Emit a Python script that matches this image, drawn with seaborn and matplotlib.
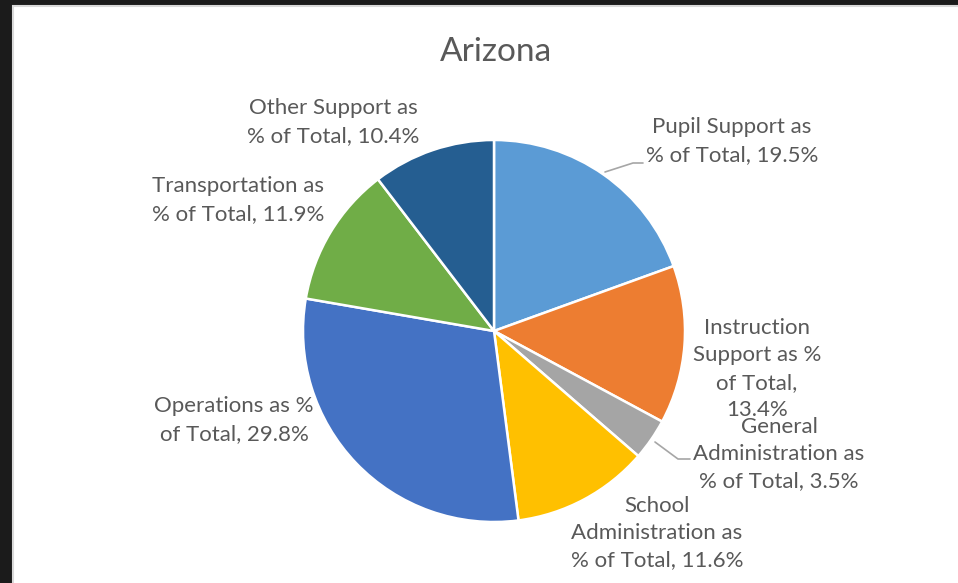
import matplotlib.pyplot as plt
import seaborn as sns
from matplotlib.patches import Rectangle

# data (clockwise from 12 o'clock)
categories = [
    "Pupil Support as\n% of Total",
    "Instruction\nSupport as %\nof Total,",
    "General\nAdministration as\n% of Total",
    "School\nAdministration as\n% of Total",
    "Operations as %\nof Total",
    "Transportation as\n% of Total",
    "Other Support as\n% of Total",
]
shares = [19.5, 13.4, 3.5, 11.6, 29.8, 11.9, 10.4]
colors = ["#5B9BD5", "#ED7D31", "#A5A5A5", "#FFC000", "#4472C4", "#70AD47", "#255E91"]

# label centres in pixels of the reference
label_px = [(732, 141), (757, 369), (779, 454), (657, 533), (234, 420), (238, 200), (333, 122)]

W, H = 958, 583
CX, CY, R = 494, 331, 191

sns.set_theme(style="white")
plt.rcParams["font.family"] = ["Lato", "DejaVu Sans"]
text_color = "#595959"

fig = plt.figure(figsize=(W / 100, H / 100), dpi=100, facecolor="#1b1b1b")
fig.patches.append(Rectangle((13 / W, -0.05), (W - 13) / W + 0.1, (H - 6) / H + 0.05,
                             transform=fig.transFigure, facecolor="white",
                             edgecolor="#d9d9d9", linewidth=1.5, zorder=-10))

ax = fig.add_axes([0, 0, 1, 1])
ax.set_facecolor("none")
ax.axis("off")

ax.pie(shares, colors=sns.color_palette(colors), startangle=90, counterclock=False,
       radius=1, center=(0, 0), normalize=True,
       wedgeprops=dict(edgecolor="white", linewidth=1.8))
ax.set_xlim(-CX / R, (W - CX) / R)
ax.set_ylim((CY - H) / R, CY / R)
ax.set_aspect("auto")


def to_data(px, py):
    return (px - CX) / R, (CY - py) / R


for cat, val, (px, py) in zip(categories, shares, label_px):
    if cat.endswith(","):
        txt = f"{cat}\n{val}%"
    else:
        txt = f"{cat}, {val}%"
    x, y = to_data(px, py)
    ax.text(x, y, txt, ha="center", va="center", multialignment="center",
            fontsize=16, color=text_color, linespacing=1.45)

# leader lines
for pts in ([(605, 172), (633, 163), (643, 163)], [(655, 442), (678, 459), (690, 459)]):
    xs, ys = zip(*[to_data(*p) for p in pts])
    ax.plot(xs, ys, color="#a6a6a6", linewidth=1.2)

tx, ty = to_data(496, 52)
ax.text(tx, ty, "Arizona", ha="center", va="center", fontsize=24, color=text_color)

fig.savefig("out.png", dpi=100, facecolor=fig.get_facecolor())
